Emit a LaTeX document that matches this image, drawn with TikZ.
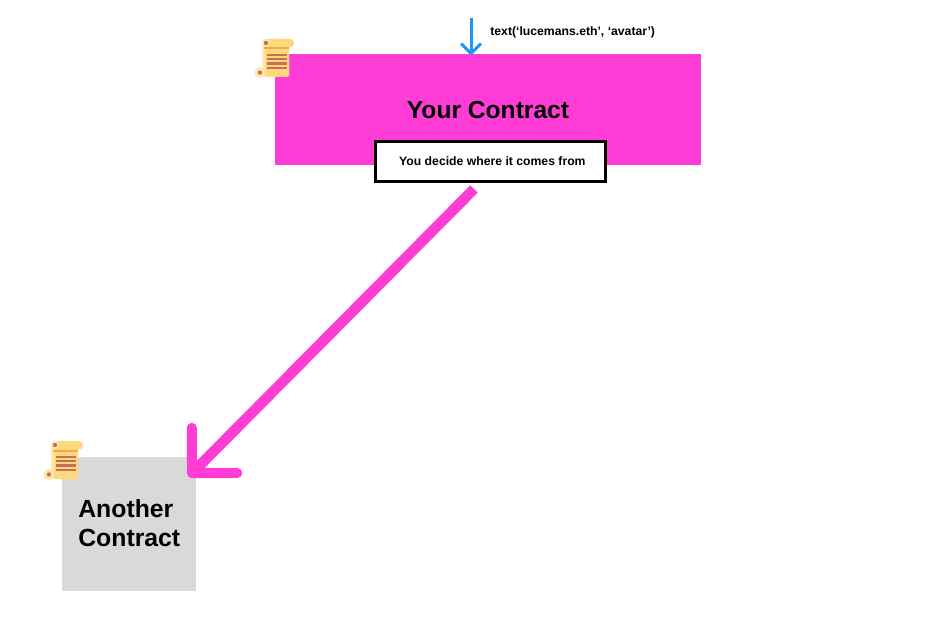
\documentclass[tikz,border=0pt]{standalone}
\usepackage{fontspec}
\setmainfont{Liberation Sans}
\usetikzlibrary{arrows.meta}
\definecolor{contractpink}{RGB}{255,61,214}
\definecolor{contractgray}{RGB}{217,217,217}
\definecolor{callblue}{RGB}{33,150,243}
\definecolor{scrollbody}{RGB}{255,216,125}
\definecolor{scrollpale}{RGB}{255,232,176}
\definecolor{scrollband}{RGB}{232,172,84}
\definecolor{scrollink}{RGB}{198,112,88}
\tikzset{
  contract/.style={rectangle,inner sep=0pt,font=\bfseries},
  notebox/.style={draw,line width=0.6mm,fill=white,rectangle,minimum width=46mm,minimum height=8mm,inner sep=0pt,font=\bfseries\fontsize{6.95}{8}\selectfont},
  calllabel/.style={anchor=west,inner sep=0pt,font=\bfseries\fontsize{6.95}{8}\selectfont},
  callarrow/.style={draw=callblue,line width=0.6mm,shorten >=-0.4mm,-{Straight Barb[length=2mm,width=4mm]}},
  fromarrow/.style={draw=contractpink,line width=2.1mm,-{Straight Barb[length=6.4mm,width=12.8mm,round,line width=2mm]}},
  pics/scrollicon/.style={code={
    \fill[scrollpale,rounded corners=0.5mm] (0,0) rectangle (27,38);
    \fill[scrollpale] (-2,33.5) circle (5.5);
    \fill[scrollbody,rounded corners=0.5mm] (3,0) rectangle (27,38);
    \fill[scrollbody,rounded corners=0.8mm] (3,0) rectangle (32,8.5);
    \fill[scrollpale] (4,4) circle (4);
    \fill[scrollink] (4,4) circle (2.2);
    \fill[scrollink] (-2,33.5) circle (2.2);
    \fill[scrollband] (2,8.5) rectangle (27,10.5);
    \foreach \y in {14.8,19.2,23.4,27.8}
      \fill[scrollink] (5,\y) rectangle (25,\y+2.2);
  }}
}

\begin{document}
\begin{tikzpicture}[x=0.2mm,y=-0.2mm]

  \useasboundingbox (0,0) rectangle (941,642);

  \node[contract,fill=contractpink,minimum width=85.2mm,minimum height=22.2mm,text height=3.7mm,text depth=0mm,font=\bfseries\fontsize{14}{16}\selectfont] at (488,109.5) (yourcontract) {Your Contract};
  \node[notebox] at (490.4,161.3) (decidebox) {\hspace*{0.8mm}You decide where it comes from};

  \node[contract,fill=contractgray,minimum width=26.8mm,minimum height=26.8mm] at (129,524) (anothercontract) {};
  \node[anchor=west,align=left,inner sep=0pt,font=\bfseries\fontsize{14.1}{16.6}\selectfont] at (78,523.5) (anotherlabel) {Another\\Contract};

  \pic at (262,39) {scrollicon};
  \pic at (51,441) {scrollicon};

  \coordinate (callstart) at (471,18);
  \draw[callarrow] (callstart) -- (callstart |- yourcontract.north);
  \node[calllabel] at (490,32) (calltext) {text(‘lucemans.eth’, ‘avatar’)};

  % pink arrow out of the note
  \coordinate (fromstart) at (474,189);
  \coordinate (fromend) at (188.5,476.7);
  \draw[fromarrow] (fromstart) -- (fromend);

\end{tikzpicture}
\end{document}
